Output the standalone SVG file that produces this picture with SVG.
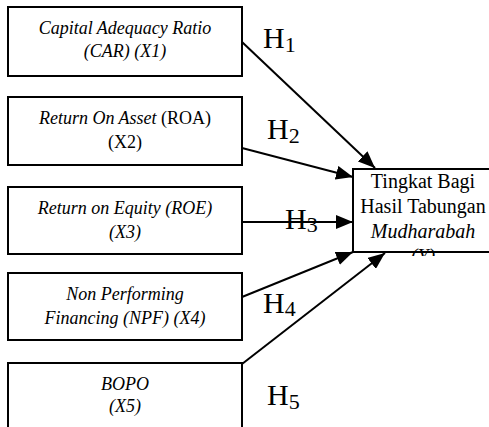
<svg xmlns="http://www.w3.org/2000/svg" width="489" height="427" viewBox="0 0 489 427">
<style>
.box{fill:#fff;stroke:#000;stroke-width:2}
.t{font-family:"Liberation Serif","Times New Roman",serif;font-size:18px;fill:#000;text-anchor:middle}
.i{font-style:italic}
.y{font-family:"Liberation Serif","Times New Roman",serif;font-size:20px;fill:#000;text-anchor:middle}
.h{font-family:"Liberation Serif","Times New Roman",serif;font-size:30px;fill:#000}
.sub{font-size:22px}
.c{stroke:#000;stroke-width:2;fill:none}
</style>
<defs>
<marker id="ah" markerUnits="userSpaceOnUse" markerWidth="18" markerHeight="14" refX="17" refY="7" orient="auto">
<path d="M0,0 L17,7 L0,14 Z" fill="#000"/>
</marker>
<clipPath id="yclip"><rect x="353" y="169" width="140" height="87"/></clipPath>
</defs>
<g id="x1">
<rect class="box" x="8" y="7" width="234" height="69"/>
<text class="t i" x="125" y="34">Capital Adequacy Ratio</text>
<text class="t i" x="125" y="57">(CAR) (X1)</text>
</g>
<g id="x2">
<rect class="box" x="8" y="97" width="234" height="68"/>
<text class="t" x="125" y="124"><tspan class="i">Return On Asset</tspan> (ROA)</text>
<text class="t" x="125" y="148">(X2)</text>
</g>
<g id="x3">
<rect class="box" x="8" y="187" width="234" height="67"/>
<text class="t i" x="125" y="214">Return on Equity (ROE)</text>
<text class="t i" x="125" y="238">(X3)</text>
</g>
<g id="x4">
<rect class="box" x="8" y="273" width="234" height="67"/>
<text class="t i" x="125" y="300">Non Performing</text>
<text class="t i" x="125" y="324">Financing (NPF) (X4)</text>
</g>
<g id="x5">
<rect class="box" x="8" y="363" width="234" height="80"/>
<text class="t i" x="125" y="390">BOPO</text>
<text class="t i" x="125" y="412">(X5)</text>
</g>
<g id="y">
<rect class="box" x="353" y="169" width="140" height="83"/>
<g clip-path="url(#yclip)">
<text class="y" x="423" y="188">Tingkat Bagi</text>
<text class="y" x="423" y="213">Hasil Tabungan</text>
<text class="y i" x="423" y="238">Mudharabah</text>
<text class="y i" x="423" y="263">(Y)</text>
</g>
</g>
<g id="connectors">
<line class="c" x1="242" y1="42" x2="375" y2="168" marker-end="url(#ah)"/>
<line class="c" x1="242" y1="148" x2="353" y2="177" marker-end="url(#ah)"/>
<line class="c" x1="242" y1="222" x2="353" y2="222" marker-end="url(#ah)"/>
<line class="c" x1="242" y1="297" x2="353" y2="252" marker-end="url(#ah)"/>
<line class="c" x1="242" y1="364" x2="385" y2="253" marker-end="url(#ah)"/>
</g>
<g id="labels">
<text class="h" x="263" y="48">H<tspan class="sub" dy="4">1</tspan></text>
<text class="h" x="267" y="139">H<tspan class="sub" dy="4">2</tspan></text>
<text class="h" x="285" y="229">H<tspan class="sub" dy="3">3</tspan></text>
<text class="h" x="263" y="313">H<tspan class="sub" dy="3">4</tspan></text>
<text class="h" x="267" y="405">H<tspan class="sub" dy="4">5</tspan></text>
</g>
</svg>
